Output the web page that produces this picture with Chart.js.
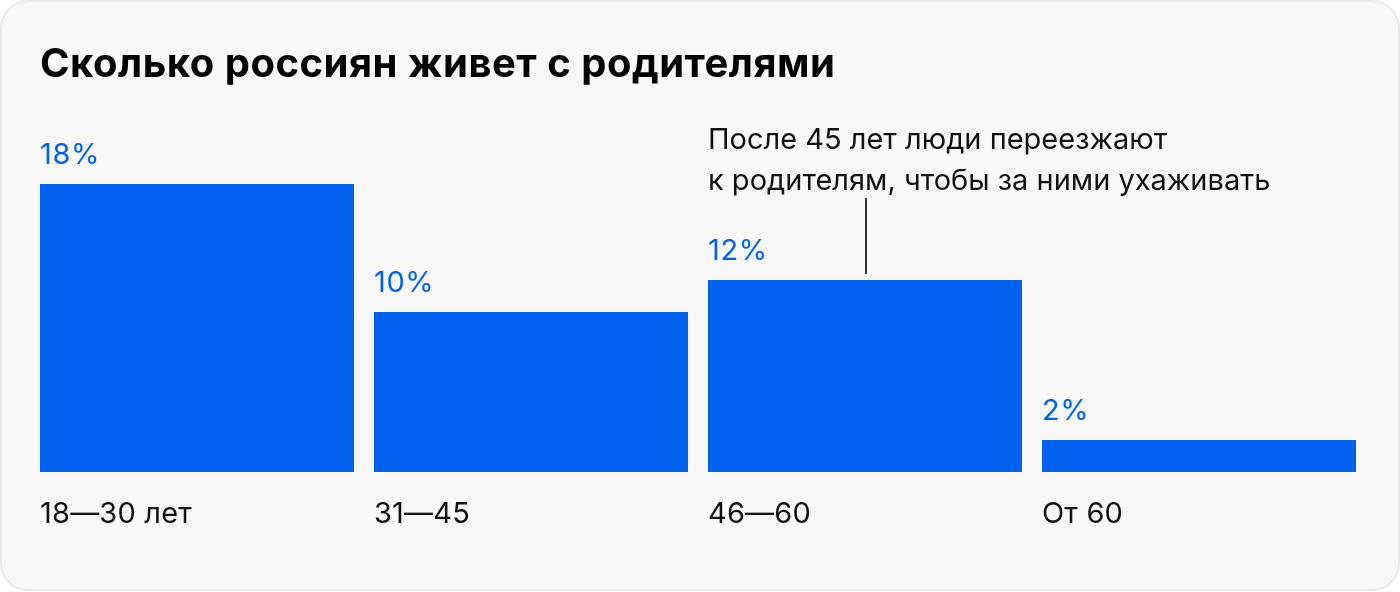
<!DOCTYPE html>
<html lang="ru">
<head>
<meta charset="utf-8">
<title>Сколько россиян живет с родителями</title>
<script src="https://cdn.jsdelivr.net/npm/chart.js@4"></script>
<style>
    html, body { margin: 0; padding: 0; background: #ffffff; }
    .card {
        position: absolute; left: 0; top: 0;
        width: 1400px; height: 591px;
        box-sizing: border-box;
        background: #f8f8f8;
        border: 2px solid #e9e9e9;
        border-radius: 28px;
    }
    .wrap { position: absolute; left: 0; top: 0; width: 1400px; height: 592px; }
</style>
</head>
<body>
<div class="card"></div>
<div class="wrap"><canvas id="chart" width="1400" height="592"></canvas></div>
<script>
// Dữ liệu biểu đồ
const title = 'Сколько россиян живет с родителями';
const categories = ['18—30 лет', '31—45', '46—60', 'От 60'];
const shares = [18, 10, 12, 2];
const valueLabels = ['18%', '10%', '12%', '2%'];
const noteIndex = 2;
const noteLines = ['После 45 лет люди переезжают', 'к родителям, чтобы за ними ухаживать'];

const BLUE = '#0062ee';
const FONT = 'Inter, Roboto, "Noto Sans", sans-serif';

// Plugin vẽ tiêu đề, nhãn giá trị, nhãn danh mục và chú thích
const labelsPlugin = {
    id: 'labelsPlugin',
    afterDatasetsDraw(chart) {
        const ctx = chart.ctx;
        const bars = chart.getDatasetMeta(0).data;
        const zeroY = chart.scales.y.getPixelForValue(0);
        ctx.save();
        ctx.textBaseline = 'alphabetic';
        ctx.textAlign = 'left';

        // tiêu đề
        ctx.fillStyle = '#000000';
        ctx.font = `700 40px ${FONT}`;
        ctx.letterSpacing = '0.5px';
        ctx.fillText(title, 40, 77);
        ctx.letterSpacing = '0px';

        bars.forEach((bar, i) => {
            const left = bar.x - bar.width / 2;
            ctx.fillStyle = BLUE;
            ctx.font = `400 29px ${FONT}`;
            ctx.letterSpacing = '0.6px';
            ctx.fillText(valueLabels[i], left, bar.y - 20);
            ctx.letterSpacing = '0.2px';

            ctx.fillStyle = '#111111';
            ctx.fillText(categories[i], left, zeroY + 51);
        });

        // chú thích
        const nb = bars[noteIndex];
        ctx.fillStyle = '#111111';
        ctx.font = `400 29px ${FONT}`;
        ctx.letterSpacing = '0px';
        noteLines.forEach((line, j) => {
            ctx.fillText(line, nb.x - nb.width / 2, 149 + j * 41);
        });
        ctx.strokeStyle = '#333333';
        ctx.lineWidth = 2;
        ctx.beginPath();
        ctx.moveTo(Math.round(nb.x) + 1, 198);
        ctx.lineTo(Math.round(nb.x) + 1, nb.y - 6);
        ctx.stroke();
        ctx.restore();
    }
};

new Chart(document.getElementById('chart').getContext('2d'), {
    type: 'bar',
    data: {
        labels: categories,
        datasets: [{
            data: shares,
            backgroundColor: BLUE,
            borderWidth: 0,
            barPercentage: 314 / 334,
            categoryPercentage: 1
        }]
    },
    options: {
        responsive: false,
        animation: false,
        layout: { padding: { left: 30, right: 34, top: 152, bottom: 120 } },
        plugins: { legend: { display: false }, tooltip: { enabled: false } },
        scales: {
            x: { display: false },
            y: { display: false, min: 0, max: 20 }
        }
    },
    plugins: [labelsPlugin]
});
</script>
</body>
</html>
